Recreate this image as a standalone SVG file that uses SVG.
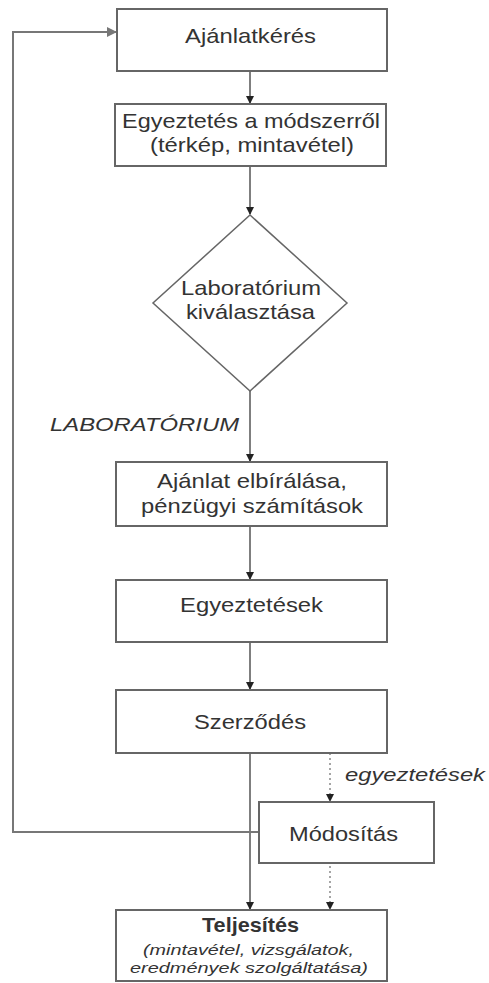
<svg xmlns="http://www.w3.org/2000/svg" width="489" height="983" viewBox="0 0 489 983">
<defs>
<marker id="ah" markerWidth="8" markerHeight="8" refX="7" refY="4" orient="auto" markerUnits="userSpaceOnUse">
<path d="M0,0 L8,4 L0,8 Z" fill="#222"/>
</marker>
<marker id="ahg" markerWidth="10" markerHeight="10" refX="9" refY="5" orient="auto" markerUnits="userSpaceOnUse">
<path d="M0,0 L10,5 L0,10 Z" fill="#777"/>
</marker>
<style>
.box{fill:#fff;stroke:#666;stroke-width:2}
.t{font-family:"Liberation Sans",Arial,sans-serif;font-size:21px;fill:#333;text-anchor:middle}
.i{font-family:"Liberation Sans",Arial,sans-serif;font-style:italic;fill:#333}
.ln{fill:none;stroke:#555;stroke-width:1.5}
.dt{fill:none;stroke:#888;stroke-width:1.5;stroke-dasharray:2 3}
</style>
</defs>
<rect width="489" height="983" fill="#fff"/>
<g id="connectors">
<path class="ln" d="M250,71 V103" marker-end="url(#ah)"/>
<path class="ln" d="M250,166 V214" marker-end="url(#ah)"/>
<path class="ln" d="M250,391 V461" marker-end="url(#ah)"/>
<path class="ln" d="M250,526 V579" marker-end="url(#ah)"/>
<path class="ln" d="M250,642 V689" marker-end="url(#ah)"/>
<path class="ln" d="M250,753 V909" marker-end="url(#ah)"/>
<path class="dt" d="M330,753 V801" marker-end="url(#ah)"/>
<path class="dt" d="M330,866 V909" marker-end="url(#ah)"/>
<path fill="none" stroke="#777" stroke-width="2" d="M258,832 H13 V32 H116" marker-end="url(#ahg)"/>
<text class="i" x="50" y="431" font-size="18" textLength="189" lengthAdjust="spacingAndGlyphs">LABORATÓRIUM</text>
<text class="i" x="345" y="781" font-size="18" textLength="140" lengthAdjust="spacingAndGlyphs">egyeztetések</text>
</g>
<g id="n1">
<rect class="box" x="117" y="9" width="270" height="62"/>
<text class="t" x="250.5" y="43" textLength="131" lengthAdjust="spacingAndGlyphs">Ajánlatkérés</text>
</g>
<g id="n2">
<rect class="box" x="115" y="104" width="271" height="62"/>
<text class="t" x="251" y="128" textLength="258" lengthAdjust="spacingAndGlyphs">Egyeztetés a módszerről</text>
<text class="t" x="252" y="152" textLength="204" lengthAdjust="spacingAndGlyphs">(térkép, mintavétel)</text>
</g>
<g id="n3">
<path d="M250,215 L347,303 L250,391 L153,303 Z" fill="#fff" stroke="#666" stroke-width="1.5"/>
<text class="t" x="251" y="295" textLength="140" lengthAdjust="spacingAndGlyphs">Laboratórium</text>
<text class="t" x="250.5" y="319" textLength="129" lengthAdjust="spacingAndGlyphs">kiválasztása</text>
</g>
<g id="n4">
<rect class="box" x="116" y="462" width="271" height="64"/>
<text class="t" x="252" y="488" textLength="190" lengthAdjust="spacingAndGlyphs">Ajánlat elbírálása,</text>
<text class="t" x="252" y="513" textLength="222" lengthAdjust="spacingAndGlyphs">pénzügyi számítások</text>
</g>
<g id="n5">
<rect class="box" x="116" y="580" width="271" height="62"/>
<text class="t" x="251.5" y="612" textLength="143" lengthAdjust="spacingAndGlyphs">Egyeztetések</text>
</g>
<g id="n6">
<rect class="box" x="116" y="690" width="271" height="63"/>
<text class="t" x="250" y="729" textLength="112" lengthAdjust="spacingAndGlyphs">Szerződés</text>
</g>
<g id="n7">
<rect class="box" x="259" y="802" width="175" height="61"/>
<text class="t" x="343.5" y="841" textLength="109" lengthAdjust="spacingAndGlyphs">Módosítás</text>
</g>
<g id="n8">
<rect class="box" x="116" y="910" width="271" height="71"/>
<text class="t" x="250.5" y="932" font-size="19" font-weight="bold" textLength="97" lengthAdjust="spacingAndGlyphs">Teljesítés</text>
<text class="i" x="248.5" y="955" font-size="15" text-anchor="middle" textLength="211" lengthAdjust="spacingAndGlyphs">(mintavétel, vizsgálatok,</text>
<text class="i" x="249" y="973" font-size="15" text-anchor="middle" textLength="238" lengthAdjust="spacingAndGlyphs">eredmények szolgáltatása)</text>
</g>
</svg>
